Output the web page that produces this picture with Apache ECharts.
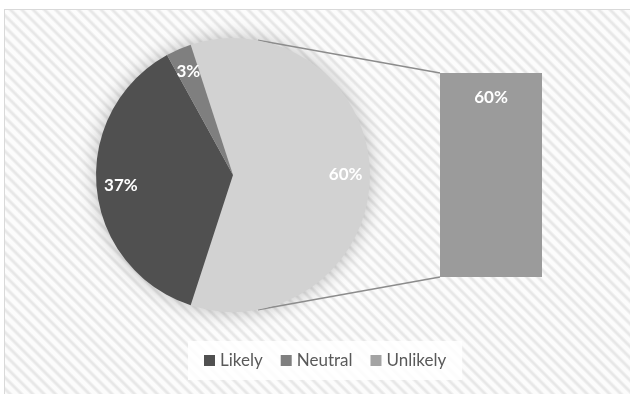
<!DOCTYPE html>
<html>
<head>
<meta charset="utf-8">
<script src="https://cdn.jsdelivr.net/npm/echarts@6/dist/echarts.min.js"></script>
<style>
  html, body { margin: 0; padding: 0; background: #ffffff; }
  #wrap { position: relative; width: 630px; height: 394px; overflow: hidden; background: #ffffff; }
  #frame {
    position: absolute; left: 4px; top: 9px; width: 640px; height: 400px;
    border: 1px solid #d9d9d9; box-sizing: border-box;
    background: repeating-linear-gradient(45deg,
      #fcfcfc 0px, #fcfcfc 3px, #e7e7e7 5px, #e7e7e7 6px, #fcfcfc 8px);
  }
  #chart { position: absolute; left: 0; top: 0; width: 630px; height: 394px; }
</style>
</head>
<body>
<div id="wrap">
  <div id="frame"></div>
  <div id="chart"></div>
</div>
<script>
// Survey answers (percent of respondents)
const categories = ['Likely', 'Neutral', 'Unlikely'];
const values = [37, 3, 60];
// Items split out of the pie into the stacked bar
const barCategories = ['Unlikely'];
const barValues = [60];

const pieColors = { Likely: '#505050', Neutral: '#7f7f7f', Unlikely: '#d2d2d2' };
const legendColors = { Likely: '#505050', Neutral: '#7f7f7f', Unlikely: '#a3a3a3' };
const barColor = '#9b9b9b';

// Layout
const cx = 233, cy = 175, R = 137;
const gridLeft = 440, gridTop = 73, gridWidth = 102, gridHeight = 204;
const FONT = 'Lato, "Open Sans", sans-serif';

const total = values.reduce((a, b) => a + b, 0);
const otherShare = barValues.reduce((a, b) => a + b, 0) / total;
// The aggregated slice faces the bar (centred at 3 o'clock)
const startAngle = 360 * otherShare / 2;

// Order: the aggregated slice first, then the remaining ones in category order
const order = barCategories.concat(categories.filter(c => barCategories.indexOf(c) < 0));
const pieData = order.map(name => ({
  name: name,
  value: values[categories.indexOf(name)],
  itemStyle: { color: pieColors[name] }
}));
const labelData = order.map(name => ({
  name: name,
  value: values[categories.indexOf(name)]
}));

// Connector lines from the pie rim to the bar corners
const tilt = 10.5 * Math.PI / 180;
const topStart = [cx + R * Math.sin(tilt), cy - R * Math.cos(tilt)];
const botStart = [cx + R * Math.sin(tilt), cy + R * Math.cos(tilt)];

const chart = echarts.init(document.getElementById('chart'), null, { renderer: 'canvas' });
chart.setOption({
  animation: false,
  backgroundColor: 'transparent',
  textStyle: { fontFamily: FONT },
  graphic: [
    {
      type: 'circle', z: 0,
      shape: { cx: cx, cy: cy, r: R - 1 },
      style: { fill: '#cfcfcf', shadowBlur: 20, shadowColor: 'rgba(0,0,0,0.28)' },
      silent: true
    },
    {
      type: 'line', z: 1,
      shape: { x1: topStart[0], y1: topStart[1], x2: gridLeft, y2: gridTop },
      style: { stroke: '#8c8c8c', lineWidth: 1.5 },
      silent: true
    },
    {
      type: 'line', z: 1,
      shape: { x1: botStart[0], y1: botStart[1], x2: gridLeft, y2: gridTop + gridHeight },
      style: { stroke: '#8c8c8c', lineWidth: 1.5 },
      silent: true
    }
  ],
  legend: {
    left: 188,
    top: 341,
    padding: [11, 16],
    backgroundColor: 'rgba(255,255,255,0.85)',
    icon: 'rect',
    itemWidth: 11,
    itemHeight: 11,
    itemGap: 18,
    selectedMode: false,
    textStyle: { fontFamily: FONT, fontSize: 17, color: '#595959' },
    data: categories.map(name => ({ name: name, itemStyle: { color: legendColors[name] } }))
  },
  grid: { left: gridLeft, top: gridTop, width: gridWidth, height: gridHeight },
  xAxis: { type: 'category', data: barCategories, show: false },
  yAxis: { type: 'value', min: 0, max: barValues.reduce((a, b) => a + b, 0), show: false },
  series: [
    {
      type: 'pie',
      z: 2,
      center: [cx, cy],
      radius: [0, R],
      startAngle: startAngle,
      clockwise: true,
      silent: true,
      label: { show: false },
      labelLine: { show: false },
      data: pieData
    },
    {
      type: 'pie',
      z: 3,
      center: [cx, cy],
      radius: [R * 0.6, R],
      startAngle: startAngle,
      clockwise: true,
      silent: true,
      itemStyle: { color: 'rgba(0,0,0,0)' },
      label: {
        show: true,
        position: 'inside',
        formatter: p => p.value + '%',
        color: '#ffffff',
        fontFamily: FONT,
        fontWeight: 'bold',
        fontSize: 17
      },
      labelLine: { show: false },
      data: labelData
    },
    {
      type: 'bar',
      name: 'Unlikely',
      data: barValues,
      barWidth: '100%',
      silent: true,
      itemStyle: { color: barColor },
      label: {
        show: true,
        position: 'insideTop',
        distance: 16,
        formatter: p => p.value + '%',
        color: '#ffffff',
        fontFamily: FONT,
        fontWeight: 'bold',
        fontSize: 17
      }
    }
  ]
});
</script>
</body>
</html>
